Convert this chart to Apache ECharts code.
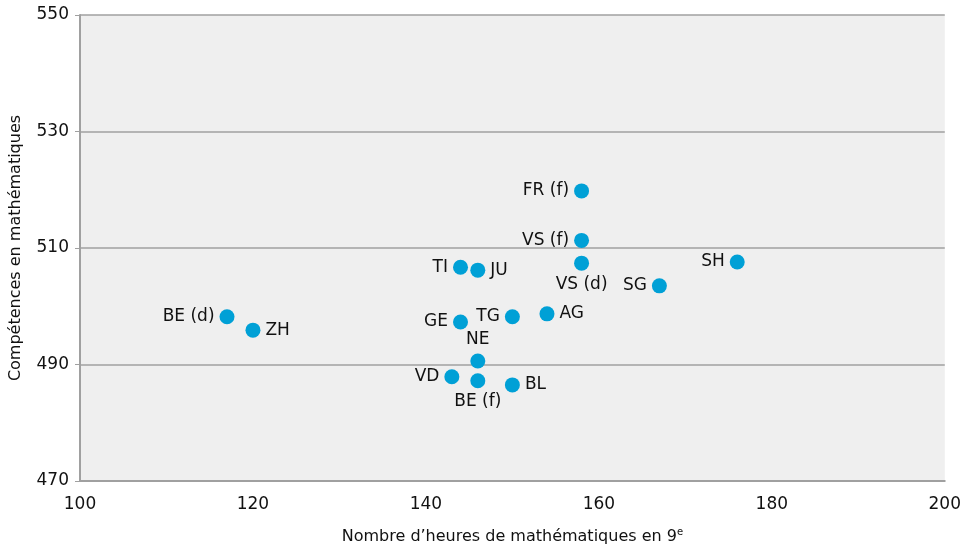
<!DOCTYPE html>
<html>
<head>
<meta charset="utf-8">
<script src="https://cdn.jsdelivr.net/npm/echarts@6/dist/echarts.min.js"></script>
<style>
  html, body { margin: 0; padding: 0; background: #fff; }
  #chart { width: 964px; height: 550px; }
</style>
</head>
<body>
<div id="chart"></div>
<script>
// cantons, heures de maths (9e) et compétences
const cantons = ['FR (f)', 'VS (f)', 'VS (d)', 'TI', 'JU', 'SH', 'SG', 'BE (d)', 'ZH', 'GE', 'TG', 'AG', 'NE', 'VD', 'BE (f)', 'BL']
const heures = [158, 158, 158, 144, 146, 176, 167, 117, 120, 144, 150, 154, 146, 143, 146, 150]
const scores = [519.8, 511.3, 507.4, 506.7, 506.2, 507.6, 503.5, 498.2, 495.9, 497.3, 498.2, 498.7, 490.6, 487.9, 487.2, 486.5]
const labelPos = ['left', 'left', 'bottom', 'left', 'right', 'left', 'left', 'left', 'right', 'left', 'left', 'right', 'top', 'left', 'bottom', 'right']

const chart = echarts.init(document.getElementById('chart'))

const points = cantons.map((c, i) => ({
  name: c,
  value: [heures[i], scores[i]],
  label: { position: labelPos[i] }
}))

chart.setOption({
  animation: false,
  textStyle: { fontFamily: 'DejaVu Sans' },
  grid: {
    left: 80,
    right: 18,
    top: 15,
    bottom: 69,
    show: true,
    backgroundColor: '#efefef',
    borderWidth: 0
  },
  xAxis: {
    type: 'value',
    min: 100,
    max: 200,
    interval: 20,
    name: 'Nombre d\u2019heures de mathématiques en 9{sup|e}',
    nameLocation: 'middle',
    nameGap: 46,
    nameTextStyle: {
      fontSize: 16,
      color: '#111',
      rich: { sup: { fontSize: 10, verticalAlign: 'top', padding: [0, 0, 9, 0], color: '#111' } }
    },
    axisLine: { lineStyle: { color: '#a0a0a0', width: 2 } },
    axisTick: { show: false },
    axisLabel: { fontSize: 17, color: '#111', margin: 15 },
    splitLine: { show: false }
  },
  yAxis: {
    type: 'value',
    min: 470,
    max: 550,
    interval: 20,
    name: 'Compétences en mathématiques',
    nameLocation: 'middle',
    nameGap: 56,
    nameTextStyle: { fontSize: 16, color: '#111' },
    axisLine: { show: true, lineStyle: { color: '#a0a0a0', width: 2 } },
    axisTick: { show: true, length: 5, lineStyle: { color: '#a0a0a0' } },
    axisLabel: { fontSize: 17, color: '#111', margin: 11 },
    splitLine: { lineStyle: { color: '#a0a0a0', width: 1.5 } }
  },
  series: [{
    type: 'scatter',
    symbolSize: 15,
    itemStyle: { color: '#00a0d6', opacity: 1 },
    label: {
      show: true,
      formatter: '{b}',
      fontSize: 17,
      color: '#111',
      opacity: 1,
      distance: 5
    },
    data: points
  }]
})
</script>
</body>
</html>
